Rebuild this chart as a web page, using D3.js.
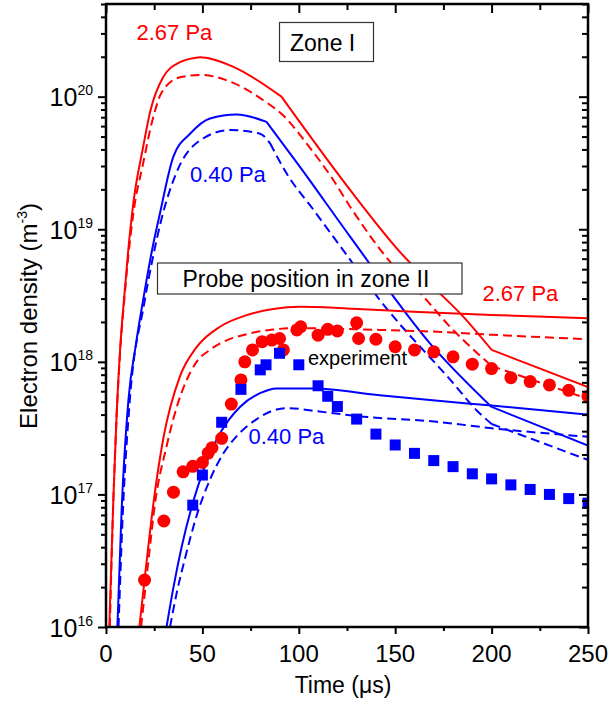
<!DOCTYPE html>
<html>
<head>
<meta charset="utf-8">
<title>Electron density vs time</title>
<script src="https://d3js.org/d3.v7.min.js"></script>
<style>
body { margin: 0; background: #fff; }
svg { display: block; font-family: Arial, "Liberation Sans", sans-serif; }
</style>
</head>
<body>
<svg id="chart" width="610" height="708"></svg>
<script>
// model curves: [time (us), electron density (m^-3)]
var zone1_267_solid = [[1.7,1e16],[3.8,9.1e16],[5.5,4.0e17],[7.3,1.23e18],[9.5,3.16e18],[11.6,7.1e18],[14.2,1.58e19],[19.3,4.2e19],[22.8,7.6e19],[29.7,1.41e20],[38.4,1.82e20],[45.3,1.95e20],[49,1.98e20],[66,1.68e20],[91,1.0e20],[126.6,1.98e19],[151.6,6.97e18],[168,3.9e18],[185.3,2.19e18],[200,1.23e18],[250,6.46e17]];
var zone1_267_dash = [[2.0,1e16],[3.8,8.9e16],[5.5,3.8e17],[7.3,1.17e18],[9.5,2.95e18],[11.6,6.3e18],[14.2,1.32e19],[19.3,3.16e19],[23.7,6.3e19],[28.8,1.07e20],[38.4,1.4e20],[48.8,1.46e20],[66,1.27e20],[81.6,9.4e19],[92,7.2e19],[104,4.45e19],[117.9,2.35e19],[126.6,1.48e19],[146.4,5.9e18],[166.3,2.92e18],[177.5,1.9e18],[185.3,1.46e18],[200,9.3e17],[250,5.25e17]];
var zone1_040_solid = [[5.9,1e16],[8.1,7.6e16],[11.6,5.1e17],[15.5,1.35e18],[19.3,2.95e18],[24,7.1e18],[28,1.32e19],[34.9,3.52e19],[43.6,5.25e19],[53.9,6.85e19],[67.8,7.35e19],[83.3,6.45e19],[100.6,2.95e19],[126.6,8.8e18],[168,1.38e18],[200,4.57e17],[250,2.34e17]];
var zone1_040_dash = [[6.5,1e16],[8.7,7.1e16],[12.2,4.8e17],[19.8,2.75e18],[24.5,6.3e18],[28.5,1.15e19],[37.5,2.88e19],[48.8,4.68e19],[64.3,5.6e19],[79.9,5.25e19],[85.1,4.45e19],[93.7,2.63e19],[107.5,1.41e19],[124.8,6.4e18],[142.1,2.92e18],[180.1,6.9e17],[192.3,4.3e17],[200,3.4e17],[250,1.82e17]];
var zone2_267_solid = [[17.3,1e16],[21.1,3.16e16],[25,9.5e16],[29.7,2.63e17],[38.4,7.8e17],[47,1.29e18],[59.1,1.84e18],[73,2.25e18],[86.8,2.5e18],[100.6,2.6e18],[124.8,2.53e18],[159.4,2.39e18],[200,2.26e18],[250,2.13e18]];
var zone2_267_dash = [[18.2,1e16],[22,3.16e16],[25.4,8.5e16],[31.4,2.3e17],[34.9,3.7e17],[47,1.0e18],[53.9,1.23e18],[74.7,1.64e18],[85.1,1.74e18],[95,1.79e18],[104,1.79e18],[142,1.74e18],[169.8,1.69e18],[200,1.6e18],[250,1.48e18]];
var zone2_040_solid = [[31.4,1e16],[35,2.0e16],[39.2,4.0e16],[45.3,8.9e16],[50.5,1.51e17],[59.1,2.88e17],[69.5,4.57e17],[79.9,5.8e17],[88.5,6.3e17],[107.5,6.3e17],[142,5.6e17],[168,5.15e17],[200,4.68e17],[250,4.0e17]];
var zone2_040_dash = [[33.2,1e16],[37,1.9e16],[41,3.3e16],[47,6.9e16],[53.9,1.29e17],[60.5,2.0e17],[67.8,2.75e17],[78.2,3.7e17],[88.5,4.37e17],[95,4.47e17],[107.5,4.27e17],[133.5,3.86e17],[171.5,3.53e17],[200,3.16e17],[250,2.72e17]];

// experiment, probe in zone II
var exp267Time = [20,30,35,40,45,50,53,55,60,65,70,72,76,81,86,90,92,99,101,110,115,120,130,131,140,150,160,170,180,190,200,210,220,230,240,250];
var exp267Dens = [2.26e16,6.3e16,1.04e17,1.48e17,1.63e17,1.74e17,2.05e17,2.25e17,2.65e17,4.8e17,7.3e17,1.0e18,1.23e18,1.42e18,1.46e18,1.5e18,1.23e18,1.74e18,1.84e18,1.59e18,1.76e18,1.71e18,1.97e18,1.5e18,1.48e18,1.3e18,1.23e18,1.19e18,1.09e18,9.6e17,8.9e17,7.6e17,7.1e17,6.7e17,6.1e17,5.5e17];
var exp040Time = [45,50,60,70,80,83,90,100,110,115,120,130,140,150,160,170,180,190,200,210,220,230,240,250];
var exp040Dens = [8.3e16,1.4e17,3.5e17,6.2e17,8.7e17,9.5e17,1.16e18,9.5e17,6.6e17,5.5e17,4.6e17,3.7e17,2.85e17,2.36e17,2.04e17,1.8e17,1.62e17,1.43e17,1.31e17,1.18e17,1.09e17,1.0e17,9.3e16,8.6e16];

// ticks
var xMajor = [0,50,100,150,200,250];
var xMinor = [25,75,125,175,225];
var yMajor = [1e16,1e17,1e18,1e19,1e20];
var yExp = ["16","17","18","19","20"];

var RED = "#ff0000", BLUE = "#0000ff";
var pLeft = 106, pRight = 588, pTop = 4, pBottom = 627;

var svg = d3.select("#chart");
var x = d3.scaleLinear().domain([0, 250]).range([pLeft, pRight]);
var y = d3.scaleLog().domain([1e16, 5e20]).range([pBottom, pTop]);

var yMinor = [];
yMajor.forEach(function(v) {
	for (var k = 2; k <= 9; k++) if (v * k <= 5e20) yMinor.push(v * k);
});

svg.append("defs").append("clipPath").attr("id", "plot-clip")
	.append("rect").attr("x", pLeft).attr("y", pTop)
	.attr("width", pRight - pLeft).attr("height", pBottom - pTop);

var plot = svg.append("g").attr("clip-path", "url(#plot-clip)");

var line = d3.line()
	.x(function(d) { return x(d[0]); })
	.y(function(d) { return y(d[1]); })
	.curve(d3.curveMonotoneX);

// kinks = times where the model curve has a sharp corner
var curves = [
	{ data: zone1_267_solid, color: RED, dash: null, kinks: [91, 200] },
	{ data: zone1_267_dash, color: RED, dash: "9,5", kinks: [200] },
	{ data: zone1_040_solid, color: BLUE, dash: null, kinks: [83.3, 200] },
	{ data: zone1_040_dash, color: BLUE, dash: "9,5", kinks: [85.1, 200] },
	{ data: zone2_267_solid, color: RED, dash: null, kinks: [] },
	{ data: zone2_267_dash, color: RED, dash: "9,5", kinks: [] },
	{ data: zone2_040_solid, color: BLUE, dash: null, kinks: [] },
	{ data: zone2_040_dash, color: BLUE, dash: "9,5", kinks: [] }
];

function pathD(c) {
	var parts = [], cur = [];
	c.data.forEach(function(p) {
		cur.push(p);
		if (c.kinks.indexOf(p[0]) >= 0) { parts.push(cur); cur = [p]; }
	});
	if (cur.length > 1) parts.push(cur);
	return parts.map(function(seg) { return line(seg); }).join("");
}

curves.forEach(function(c) {
	plot.append("path")
		.attr("d", pathD(c))
		.attr("fill", "none")
		.attr("stroke", c.color)
		.attr("stroke-width", 2)
		.attr("stroke-linejoin", "round")
		.attr("stroke-dasharray", c.dash);
});

// experiment markers
plot.append("g").selectAll("circle")
	.data(d3.zip(exp267Time, exp267Dens))
	.enter().append("circle")
	.attr("cx", function(d) { return x(d[0]); })
	.attr("cy", function(d) { return y(d[1]); })
	.attr("r", 6.5)
	.attr("fill", RED);

plot.append("g").selectAll("rect")
	.data(d3.zip(exp040Time, exp040Dens))
	.enter().append("rect")
	.attr("x", function(d) { return x(d[0]) - 5.5; })
	.attr("y", function(d) { return y(d[1]) - 5.5; })
	.attr("width", 11)
	.attr("height", 11)
	.attr("fill", BLUE);

// axes
function ticks(gen, values, size, tx, ty) {
	var g = svg.append("g")
		.attr("transform", "translate(" + tx + "," + ty + ")")
		.call(gen.tickValues(values).tickSize(size).tickFormat(""));
	g.select(".domain").remove();
	g.selectAll("line").attr("stroke", "#000").attr("stroke-width", 2);
}
ticks(d3.axisBottom(x), xMajor, 7, 0, pBottom);
ticks(d3.axisBottom(x), xMinor, 4, 0, pBottom);
ticks(d3.axisTop(x), xMajor, -9, 0, pTop);
ticks(d3.axisTop(x), xMinor, -6, 0, pTop);
ticks(d3.axisLeft(y), yMajor, 8, pLeft, 0);
ticks(d3.axisLeft(y), yMinor, 5, pLeft, 0);
ticks(d3.axisRight(y), yMajor, -9, pRight, 0);
ticks(d3.axisRight(y), yMinor, -6, pRight, 0);

svg.append("rect")
	.attr("x", pLeft).attr("y", pTop)
	.attr("width", pRight - pLeft).attr("height", pBottom - pTop)
	.attr("fill", "none").attr("stroke", "#000").attr("stroke-width", 2.5);

// tick labels
xMajor.forEach(function(v) {
	svg.append("text").attr("x", x(v)).attr("y", 662)
		.attr("text-anchor", "middle").attr("font-size", 24).text(v);
});
yMajor.forEach(function(v, i) {
	var t = svg.append("text").attr("x", 93).attr("y", y(v) + 9.5)
		.attr("text-anchor", "end").attr("font-size", 25);
	t.append("tspan").text("10");
	t.append("tspan").attr("font-size", 14).attr("dy", -11).text(yExp[i]);
});

// axis titles
svg.append("text").attr("x", 343).attr("y", 693)
	.attr("text-anchor", "middle").attr("font-size", 23).text("Time (\u03bcs)");

var yt = svg.append("text")
	.attr("transform", "translate(37,316) rotate(-90)")
	.attr("text-anchor", "middle").attr("font-size", 24);
yt.append("tspan").text("Electron density (m");
yt.append("tspan").attr("font-size", 14).attr("dy", -10).text("-3");
yt.append("tspan").attr("dy", 10).text(")");

// annotations
function label(txt, lx, ly, color, size) {
	svg.append("text").attr("x", lx).attr("y", ly)
		.attr("fill", color).attr("font-size", size).text(txt);
}
function boxLabel(txt, bx, by, bw, bh, lx, ly) {
	svg.append("rect").attr("x", bx).attr("y", by).attr("width", bw).attr("height", bh)
		.attr("fill", "#fff").attr("stroke", "#333").attr("stroke-width", 1.2);
	label(txt, lx, ly, "#000", 23);
}

label("2.67 Pa", 136.5, 40, RED, 22);
label("0.40 Pa", 190, 181.5, BLUE, 22);
boxLabel("Zone I", 279.5, 22.5, 94, 39, 290, 51);
boxLabel("Probe position in zone II", 157.5, 263, 304.5, 31, 182.5, 286.5);
label("2.67 Pa", 482.5, 301, RED, 22);
label("experiment", 308, 365, "#000", 20);
label("0.40 Pa", 248.5, 443.5, BLUE, 22);
</script>
</body>
</html>
